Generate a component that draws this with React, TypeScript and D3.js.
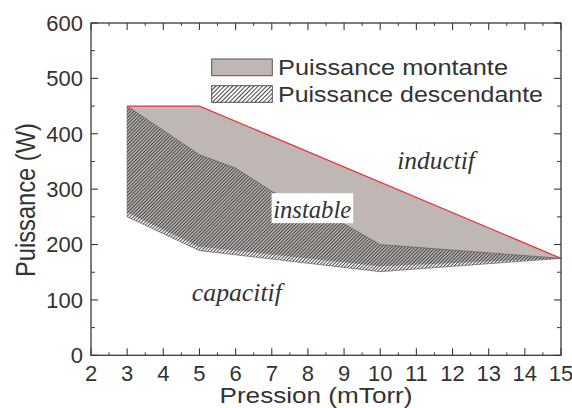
import React from "react";
import * as d3 from "d3";

// ---- data ----
const xTicks = [2, 3, 4, 5, 6, 7, 8, 9, 10, 11, 12, 13, 14, 15];
const yTicks = [0, 100, 200, 300, 400, 500, 600];

// Puissance montante: upper (red) boundary and lower boundary
const montUpperP = [3, 5, 15];
const montUpperW = [450, 450, 175];
const montLowerP = [3, 5, 10, 15];
const montLowerW = [258, 196, 161, 175];

// Puissance descendante: upper and lower boundary
const descUpperP = [3, 5, 6, 7, 9, 10, 15];
const descUpperW = [450, 362, 338, 296, 237, 200, 175];
const descLowerP = [3, 5, 10, 15];
const descLowerW = [250, 189, 151, 175];

const legendLabels = ["Puissance montante", "Puissance descendante"];
const regionLabels = ["inductif", "instable", "capacitif"];
const regionP = [10.47, 7.04, 4.79];
const regionW = [336, 247.6, 98];

const W = 572;
const H = 408;
const x = d3.scaleLinear().domain([2, 15]).range([91, 561]);
const y = d3.scaleLinear().domain([0, 600]).range([355.3, 23]);

const zip = (a: number[], b: number[]) => a.map((v, i) => [v, b[i]] as [number, number]);
const line = d3
  .line<[number, number]>()
  .x((d) => x(d[0]))
  .y((d) => y(d[1]));

const polygon = (upP: number[], upW: number[], loP: number[], loW: number[]) =>
  line([...zip(upP, upW), ...zip(loP, loW).reverse()]) + "Z";

const GREY = "#bfb7b4";
const INK = "#333";
const AX = "#3a3a3a";

export default function App() {
  const xMinor = d3.range(2.5, 15, 1);
  const yMinor = d3.range(50, 600, 100);
  return (
    <svg
      width={W}
      height={H}
      style={{ position: "absolute", left: 0, top: 0, background: "#fff" }}
      fontFamily="Arial, 'Liberation Sans', Helvetica, sans-serif"
    >
      <defs>
        <pattern id="hatch" patternUnits="userSpaceOnUse" width={2.4} height={2.4} patternTransform="rotate(45)">
          <line x1={0.5} y1={0} x2={0.5} y2={2.4} stroke="#333" strokeWidth={0.9} />
        </pattern>
        <pattern id="hatchLeg" patternUnits="userSpaceOnUse" width={3} height={3} patternTransform="rotate(45)">
          <line x1={0.5} y1={0} x2={0.5} y2={3} stroke="#333" strokeWidth={0.9} />
        </pattern>
      </defs>
      <rect width={W} height={H} fill="#fff" />

      {/* montante area */}
      <path d={polygon(montUpperP, montUpperW, montLowerP, montLowerW)} fill={GREY} stroke="none" />
      {/* descendante hatched area */}
      <path
        d={polygon(descUpperP, descUpperW, descLowerP, descLowerW)}
        fill="url(#hatch)"
        stroke="#555"
        strokeWidth={0.6}
      />
      {/* red upper boundary */}
      <path d={line(zip(montUpperP, montUpperW)) || ""} fill="none" stroke="#e8343c" strokeWidth={1.3} />

      {/* region labels */}
      <rect
        x={x(regionP[1]) - 1.6}
        y={y(regionW[1]) - 25}
        width={81.6}
        height={30}
        fill="#fff"
      />
      {regionLabels.map((t, i) => (
        <text
          key={t}
          x={x(regionP[i])}
          y={y(regionW[i])}
          fontFamily="'Liberation Serif', 'Times New Roman', serif"
          fontStyle="italic"
          fontSize={25}
          fill={INK}
          textLength={[77.7, 78, 90][i]}
          lengthAdjust="spacingAndGlyphs"
        >
          {t}
        </text>
      ))}

      {/* legend */}
      <rect x={211.7} y={59} width={60.6} height={16.7} fill={GREY} stroke="#555" strokeWidth={1} />
      <rect x={211.7} y={85.7} width={60.6} height={16.6} fill="#fff" stroke="#555" strokeWidth={1} />
      <rect x={211.7} y={85.7} width={60.6} height={16.6} fill="url(#hatchLeg)" stroke="none" />
      {legendLabels.map((t, i) => (
        <text
          key={t}
          x={278}
          y={[75.3, 101.8][i]}
          fontSize={22}
          fill={INK}
          textLength={[230, 265][i]}
          lengthAdjust="spacingAndGlyphs"
        >
          {t}
        </text>
      ))}

      {/* frame */}
      <rect x={x(2)} y={y(600)} width={x(15) - x(2)} height={y(0) - y(600)} fill="none" stroke={AX} strokeWidth={1.3} />

      {/* x ticks */}
      {xTicks.map((t) => (
        <g key={"xt" + t}>
          <line x1={x(t)} x2={x(t)} y1={y(0)} y2={y(0) - 7} stroke={AX} strokeWidth={1.1} />
          <line x1={x(t)} x2={x(t)} y1={y(600)} y2={y(600) + 7} stroke={AX} strokeWidth={1.1} />
          <text x={x(t)} y={381} fontSize={22} textAnchor="middle" fill={INK}>
            {t}
          </text>
        </g>
      ))}
      {xMinor.map((t) => (
        <g key={"xm" + t}>
          <line x1={x(t)} x2={x(t)} y1={y(0)} y2={y(0) - 3} stroke={AX} strokeWidth={1} />
          <line x1={x(t)} x2={x(t)} y1={y(600)} y2={y(600) + 3} stroke={AX} strokeWidth={1} />
        </g>
      ))}

      {/* y ticks */}
      {yTicks.map((t) => (
        <g key={"yt" + t}>
          <line x1={x(2)} x2={x(2) + 7} y1={y(t)} y2={y(t)} stroke={AX} strokeWidth={1.1} />
          <line x1={x(15)} x2={x(15) - 7} y1={y(t)} y2={y(t)} stroke={AX} strokeWidth={1.1} />
          <text x={83} y={y(t) + 7.8} fontSize={22} textAnchor="end" fill={INK}>
            {t}
          </text>
        </g>
      ))}
      {yMinor.map((t) => (
        <g key={"ym" + t}>
          <line x1={x(2)} x2={x(2) + 4} y1={y(t)} y2={y(t)} stroke={AX} strokeWidth={1} />
          <line x1={x(15)} x2={x(15) - 4} y1={y(t)} y2={y(t)} stroke={AX} strokeWidth={1} />
        </g>
      ))}

      {/* axis titles */}
      <text
        x={316}
        y={403}
        fontSize={22}
        textAnchor="middle"
        fill={INK}
        textLength={193}
        lengthAdjust="spacingAndGlyphs"
      >
        Pression (mTorr)
      </text>
      <text
        transform="translate(35,200) rotate(-90)"
        fontSize={27}
        textAnchor="middle"
        fill={INK}
        textLength={154}
        lengthAdjust="spacingAndGlyphs"
      >
        Puissance (W)
      </text>
    </svg>
  );
}
